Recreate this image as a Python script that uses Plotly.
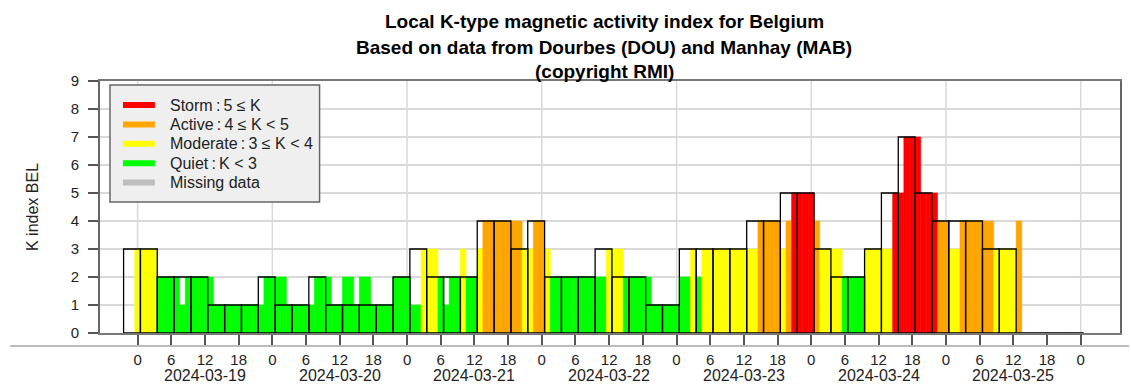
import plotly.graph_objects as go

# ---------------- data ----------------
dates = ["2024-03-19", "2024-03-20", "2024-03-21", "2024-03-22",
         "2024-03-23", "2024-03-24", "2024-03-25"]
hour_labels = ["0", "6", "12", "18"]

# hourly K index (colored bars), hour 0 = 2024-03-19 00h
k_hourly = [
    3, 3, 3, 3, 2, 2, 2, 2, 1, 2, 2, 2, 2, 2, 1, 1, 1, 1, 1, 1, 1, 1, 1, 2,   # 03-19
    2, 2, 2, 1, 1, 1, 1, 1, 2, 2, 2, 1, 1, 2, 2, 1, 2, 2, 1, 1, 1, 1, 2, 2,   # 03-20
    2, 1, 1, 3, 3, 3, 2, 1, 2, 2, 3, 2, 2, 3, 4, 4, 4, 4, 4, 4, 4, 3, 3, 4,   # 03-21
    4, 3, 2, 2, 2, 2, 2, 2, 2, 2, 2, 2, 3, 3, 3, 2, 2, 2, 2, 2, 1, 1, 1, 1,   # 03-22
    1, 2, 2, 3, 2, 3, 3, 3, 3, 3, 3, 3, 3, 3, 3, 4, 4, 4, 4, 3, 4, 5, 5, 5,   # 03-23
    5, 4, 3, 3, 3, 3, 2, 2, 2, 2, 3, 3, 3, 3, 3, 5, 5, 7, 7, 7, 5, 5, 5, 4,   # 03-24
    4, 3, 3, 4, 4, 4, 4, 4, 4, 3, 3, 3, 3, 4,                                 # 03-25
]
hourly_start = 0          # hour of first hourly value

# 3-hour K index (outlined bars)
k_3h = [3, 3, 2, 2, 2, 1, 1, 1,
        2, 1, 1, 2, 1, 1, 1, 1,
        2, 3, 2, 2, 2, 4, 4, 3,
        4, 2, 2, 2, 3, 2, 2, 1,
        1, 3, 3, 3, 3, 4, 4, 5,
        5, 3, 2, 2, 3, 5, 7, 5,
        4, 4, 4, 3, 3, 0, 0, 0,
        0]
block_first_center = -1   # center hour of first 3-hour block
block_len = 3

legend_names = ["Storm\u2009:\u20095 \u2264 K", "Active\u2009:\u20094 \u2264 K < 5",
                "Moderate\u2009:\u20093 \u2264 K < 4", "Quiet\u2009:\u2009K < 3", "Missing data"]
legend_colors = ["#FF0000", "#FFA500", "#FFFF00", "#00FF00", "#BEBEBE"]


def kcolor(v):
    if v >= 5:
        return legend_colors[0]
    if v >= 4:
        return legend_colors[1]
    if v >= 3:
        return legend_colors[2]
    return legend_colors[3]


x_hourly = [hourly_start + i for i in range(len(k_hourly))]
c_hourly = [kcolor(v) for v in k_hourly]
x_3h = [block_first_center + block_len * i for i in range(len(k_3h))]

FONT = "Liberation Sans, Arial, sans-serif"
W, H = 1131, 385
ML, MR, MT, MB = 100, 9, 81, 52
PW, PH = W - ML - MR, H - MT - MB


def px_x(x):   # pixel -> paper x
    return (x - ML) / PW


def px_y(y):   # pixel -> paper y
    return (H - MB - y) / PH


fig = go.Figure()

# hourly coloured bars
fig.add_trace(go.Bar(
    x=x_hourly, y=k_hourly, width=1,
    marker=dict(color=c_hourly, line=dict(color=c_hourly, width=0.6)),
    showlegend=False, hoverinfo="x+y",
))

# 3-hour outlined bars
fig.add_trace(go.Bar(
    x=x_3h, y=k_3h, width=block_len,
    marker=dict(color="rgba(0,0,0,0)", line=dict(color="#000000", width=1.3)),
    showlegend=False, hoverinfo="x+y",
))

# zero-valued 3h blocks: drawn as a line on the baseline
zx, zy = [], []
for xc, v in zip(x_3h, k_3h):
    if v == 0:
        zx += [xc - block_len / 2, xc + block_len / 2, None]
        zy += [0, 0, None]
fig.add_trace(go.Scatter(x=zx, y=zy, mode="lines",
                         line=dict(color="#333333", width=1.6),
                         showlegend=False, hoverinfo="skip", cliponaxis=False))

# day grid lines
n_days = len(dates)
for d in range(n_days + 1):
    fig.add_shape(type="line", xref="x", yref="y", x0=24 * d, x1=24 * d, y0=0, y1=9,
                  line=dict(color="#D9D9D9", width=1.5), layer="below")

# date labels
for d, lab in enumerate(dates):
    fig.add_annotation(x=24 * d + 12, xref="x", y=0, yref="paper", yshift=-42,
                       text=lab, showarrow=False, yanchor="middle",
                       font=dict(family=FONT, size=16, color="#222"))

# separator line under the axis
fig.add_shape(type="line", xref="paper", yref="paper", x0=px_x(10), x1=px_x(1131),
              y0=px_y(346), y1=px_y(346), line=dict(color="#BBBBBB", width=2))

# legend box (drawn manually to match the original layout)
fig.add_shape(type="rect", xref="paper", yref="paper",
              x0=px_x(110), x1=px_x(320), y0=px_y(202), y1=px_y(85),
              fillcolor="#EFEFEF", line=dict(color="#666666", width=1.5), layer="above")
for i, (name, col) in enumerate(zip(legend_names, legend_colors)):
    yy = 105 + 19.4 * i
    fig.add_shape(type="line", xref="paper", yref="paper",
                  x0=px_x(123), x1=px_x(155), y0=px_y(yy), y1=px_y(yy),
                  line=dict(color=col, width=6), layer="above")
    fig.add_annotation(x=px_x(168), xref="paper", y=px_y(yy), yref="paper",
                       text=name, showarrow=False, xanchor="left", yanchor="middle",
                       font=dict(family=FONT, size=16, color="#222"))

# title lines
titles = ["Local K-type magnetic activity index for Belgium",
          "Based on data from Dourbes (DOU) and Manhay (MAB)",
          "(copyright RMI)"]
for i, t in enumerate(titles):
    fig.add_annotation(x=px_x(605), xref="paper", y=px_y(22 + 25 * i), yref="paper",
                       yanchor="middle", text="<b>%s</b>" % t, showarrow=False,
                       font=dict(family=FONT, size=19, color="#000"))

tickvals = list(range(0, 24 * n_days + 1, 6))
ticktext = [hour_labels[(v % 24) // 6] for v in tickvals]

fig.update_layout(
    width=W, height=H,
    margin=dict(l=ML, r=MR, t=MT, b=MB),
    paper_bgcolor="white", plot_bgcolor="white",
    barmode="overlay", showlegend=False,
    font=dict(family=FONT, color="#222"),
    xaxis=dict(range=[-6.7, 175.0], tickvals=tickvals, ticktext=ticktext,
               showgrid=False, zeroline=False, ticks="outside", ticklen=10,
               tickwidth=1.5, tickcolor="#555", tickfont=dict(size=15),
               ticklabelstandoff=2,
               showline=True, linecolor="#777", linewidth=2, mirror=True),
    yaxis=dict(range=[0, 9], dtick=1, showgrid=True, gridcolor="#D9D9D9",
               gridwidth=1.5, zeroline=False, ticks="outside", ticklen=10,
               tickwidth=1.5, tickcolor="#555", tickfont=dict(size=15),
               ticklabelstandoff=6,
               showline=True, linecolor="#666", linewidth=2, mirror=True,
               title=dict(text="K index BEL", font=dict(size=16), standoff=28)),
)

fig.write_html("out.html", config={"displayModeBar": False},
               post_script="document.body.style.margin='0';document.body.style.overflow='hidden';")
